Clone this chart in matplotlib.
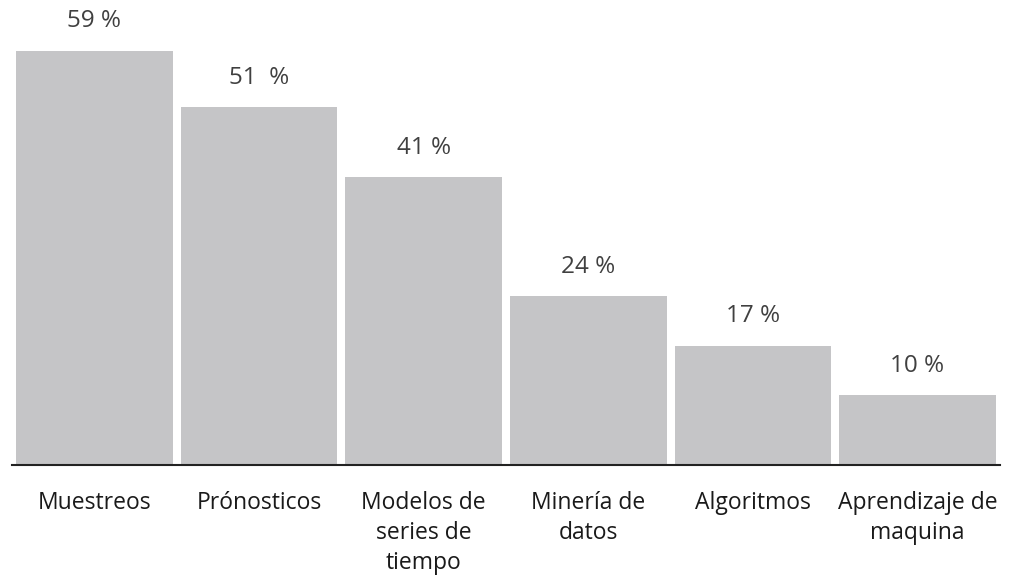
import matplotlib.pyplot as plt

categories = ["Muestreos", "Prónosticos", "Modelos de\nseries de\ntiempo",
              "Minería de\ndatos", "Algoritmos", "Aprendizaje de\nmaquina"]
values = [59, 51, 41, 24, 17, 10]
value_labels = ["59 %", "51  %", "41 %", "24 %", "17 %", "10 %"]

plt.rcParams['font.family'] = ['Open Sans', 'DejaVu Sans']

fig = plt.figure(figsize=(10.12, 5.77), dpi=100)
ax = fig.add_axes([0.012, 0.194, 0.976, 0.806])

x = range(len(values))
bars = ax.bar(x, values, width=0.95, color='#c5c5c7')

# value labels above the bars
for xi, v, lab in zip(x, values, value_labels):
    ax.annotate(lab, (xi, v), xytext=(0, 21), textcoords='offset points',
                ha='center', va='center', fontsize=17.5, color='#404040')

ax.set_xlim(-0.5, 5.5)
ax.set_ylim(0, 66.2)
ax.set_xticks(list(x))
ax.set_xticklabels(categories, fontsize=16.5, color='#1a1a1a', linespacing=1.33, va='top')
ax.tick_params(axis='x', length=0, pad=19)
ax.set_yticks([])
for side in ['top', 'left', 'right']:
    ax.spines[side].set_visible(False)
ax.spines['bottom'].set_linewidth(1.5)
ax.spines['bottom'].set_color('#222222')

fig.savefig("out.png", dpi=100)
